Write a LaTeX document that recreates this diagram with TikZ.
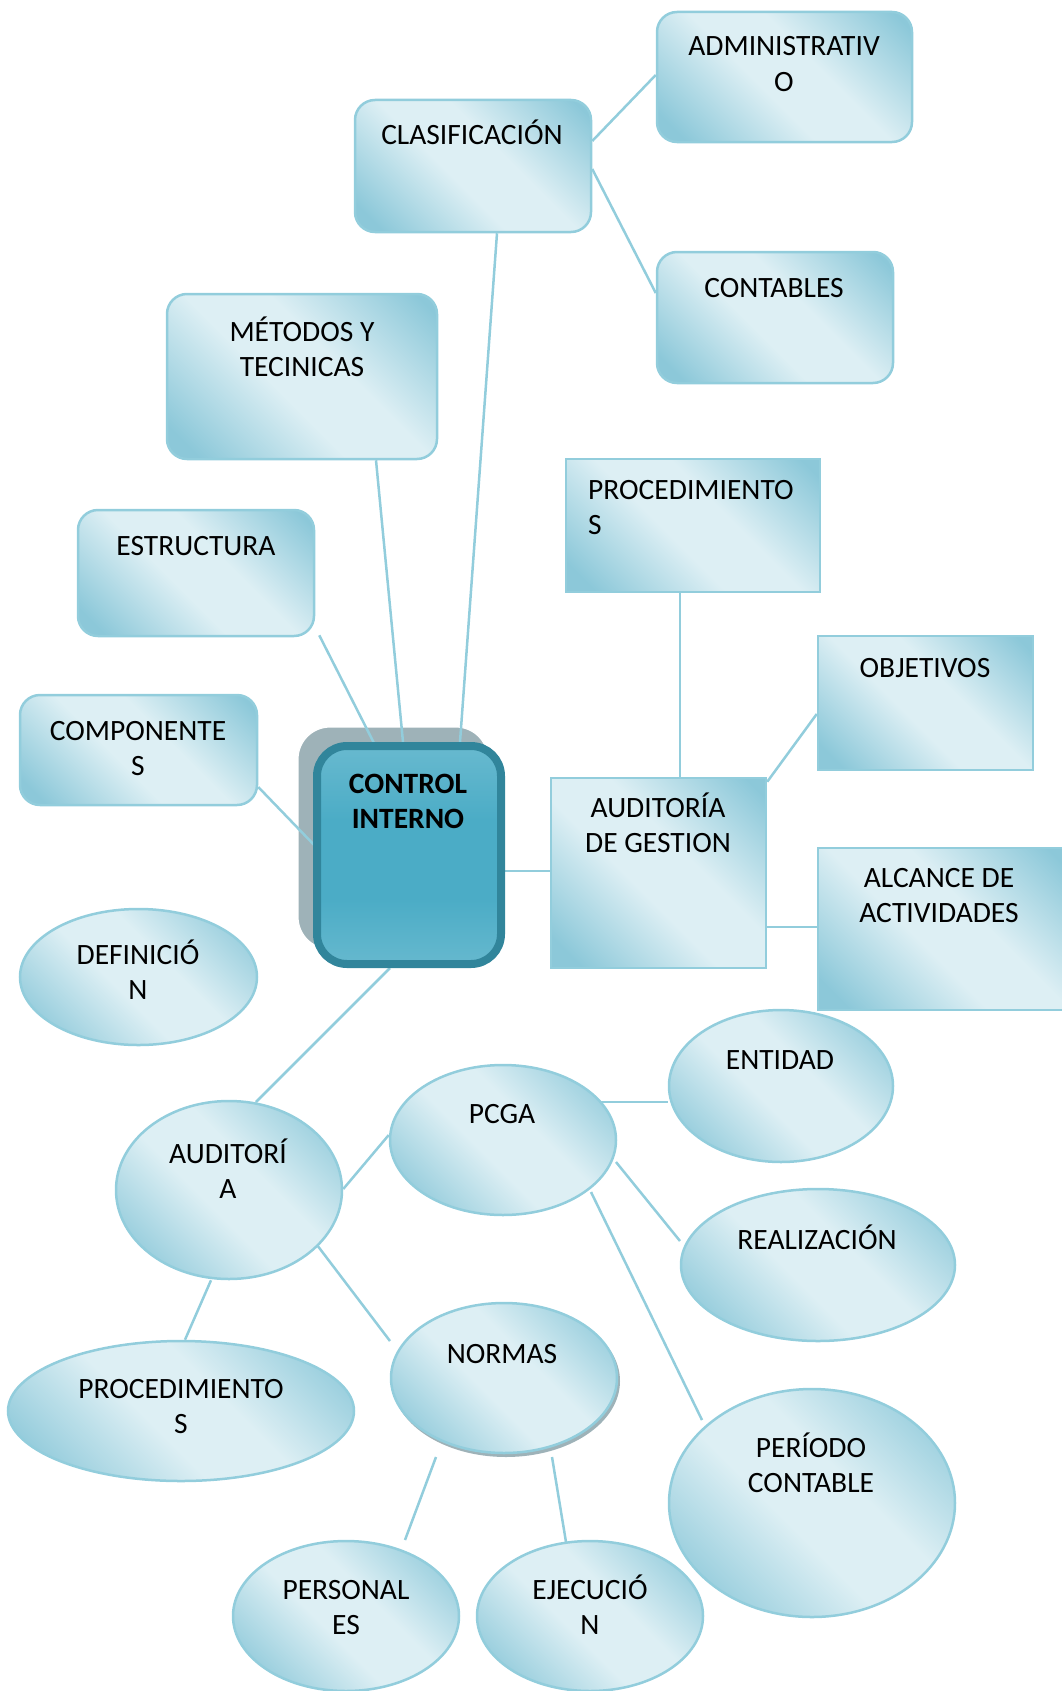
\documentclass[tikz,border=0pt]{standalone}
\usepackage{fontspec}
\setmainfont{Carlito}
\usetikzlibrary{shapes.geometric,calc,backgrounds}
\definecolor{cdk}{RGB}{140,200,217}
\definecolor{clt}{RGB}{221,239,244}
\definecolor{edge}{RGB}{146,205,220}
\definecolor{cimid}{RGB}{75,172,198}
\definecolor{citop}{RGB}{146,205,220}
\definecolor{ciedge}{RGB}{49,133,155}
\definecolor{shgray}{RGB}{158,178,184}
\pgfdeclarehorizontalshading{band}{100bp}{color(0bp)=(cdk); color(20bp)=(cdk); color(44bp)=(clt); color(58bp)=(clt); color(82bp)=(cdk); color(100bp)=(cdk)}
\pgfdeclareverticalshading{cishade}{100bp}{color(0bp)=(citop); color(40bp)=(cimid); color(58bp)=(cimid); color(100bp)=(citop)}
\newcommand\mylines[1]{\begin{tabular}[t]{@{}c@{}}#1\end{tabular}}
\newcommand\mylinesl[1]{\begin{tabular}[t]{@{}l@{}}#1\end{tabular}}
\tikzset{
  box/.style={draw=edge, line width=2.5pt, shading=band, shading angle=45, inner sep=0pt},
  rbox/.style={box, rectangle, rounded corners=20pt},
  sbox/.style={box, rectangle},
  ell/.style={box, ellipse},
  txt/.style={font=\fontsize{29.5}{35.5}\selectfont, anchor=base, inner sep=0pt},
  link/.style={draw=edge, line width=2.5pt},
  cibox/.style={rectangle, rounded corners=30pt, draw=ciedge, line width=8pt, shading=cishade, inner sep=0pt},
  cishadow/.style={rectangle, rounded corners=32pt, draw=white, line width=1.2pt, fill=shgray, inner sep=0pt},
  ellshadow/.style={ellipse, fill=shgray, inner sep=0pt}
}
\begin{document}
\begin{tikzpicture}[x=1pt,y=-1pt]
\useasboundingbox (0,0) rectangle (1061,1691);
% rounded / square boxes
\node[rbox, minimum width=255pt, minimum height=130pt] (adm) at (784.5,77) {};
\node[rbox, minimum width=236pt, minimum height=132pt] (clas) at (473,166) {};
\node[rbox, minimum width=236pt, minimum height=131pt] (cont) at (775,317.5) {};
\node[rbox, minimum width=270pt, minimum height=165pt] (met) at (302,376.5) {};
\node[rbox, minimum width=236pt, minimum height=126pt] (est) at (196,573) {};
\node[sbox, minimum width=254pt, minimum height=133pt] (proc1) at (693,525.5) {};
\node[sbox, minimum width=215pt, minimum height=134pt] (obj) at (925.5,703) {};
\node[rbox, minimum width=237pt, minimum height=110pt] (comp) at (138.5,750) {};
\begin{pgfonlayer}{background}
\node[cishadow, minimum width=190pt, minimum height=222pt] (cish) at (393,838) {};
\node[ellshadow, minimum width=228pt, minimum height=152pt] (normsh) at (506,1381) {};
\end{pgfonlayer}
\node[cibox, minimum width=184pt, minimum height=218pt] (ci) at (409,855) {};
\node[sbox, minimum width=215pt, minimum height=190pt] (adg) at (658.5,873) {};
\node[sbox, minimum width=250pt, minimum height=162pt] (alc) at (943,929) {};
% ellipses
\node[ell, minimum width=237pt, minimum height=136pt] (defi) at (138.5,977) {};
\node[ell, minimum width=224pt, minimum height=152pt] (ent) at (781,1086) {};
\node[ell, minimum width=226pt, minimum height=150pt] (pcga) at (503,1140) {};
\node[ell, minimum width=226pt, minimum height=178pt] (aud) at (229,1190) {};
\node[ell, minimum width=274pt, minimum height=152pt] (real) at (818,1265) {};
\node[ell, minimum width=226pt, minimum height=150pt] (norm) at (504,1378) {};
\node[ell, minimum width=346pt, minimum height=140pt] (procE) at (181,1411) {};
\node[ell, minimum width=286pt, minimum height=228pt] (per) at (812,1503) {};
\node[ell, minimum width=226pt, minimum height=150pt] (pers) at (346,1616) {};
\node[ell, minimum width=226pt, minimum height=150pt] (eje) at (590,1616) {};
% texts
\node[txt] (admt) at (784,56) {\mylines{ADMINISTRATIV\\O}};
\node[txt] (clast) at (472,145) {CLASIFICACIÓN};
\node[txt] (contt) at (774,297) {CONTABLES};
\node[txt] (mett) at (302,341) {\mylines{MÉTODOS Y\\TECINICAS}};
\node[txt] (estt) at (196,555) {ESTRUCTURA};
\node[txt, anchor=base west] (proc1t) at (588,499) {\mylinesl{PROCEDIMIENTO\\S}};
\node[txt] (objt) at (925,677) {OBJETIVOS};
\node[txt] (compt) at (138,740) {\mylines{COMPONENTE\\S}};
\node[txt, font=\fontsize{29.5}{35.5}\selectfont\bfseries] (cit) at (408,793) {\mylines{CONTROL\\INTERNO}};
\node[txt] (adgt) at (658,817) {\mylines{AUDITORÍA\\DE GESTION}};
\node[txt] (alct) at (939,887) {\mylines{ALCANCE DE\\ACTIVIDADES}};
\node[txt] (defit) at (138,964) {\mylines{DEFINICIÓ\\N}};
\node[txt] (entt) at (780,1069) {ENTIDAD};
\node[txt] (pcgat) at (502,1123) {PCGA};
\node[txt] (audt) at (228,1163) {\mylines{AUDITORÍ\\A}};
\node[txt] (realt) at (817,1249) {REALIZACIÓN};
\node[txt] (normt) at (502,1363) {NORMAS};
\node[txt] (procEt) at (181,1398) {\mylines{PROCEDIMIENTO\\S}};
\node[txt] (pert) at (811,1457) {\mylines{PERÍODO\\CONTABLE}};
\node[txt] (perst) at (346,1599) {\mylines{PERSONAL\\ES}};
\node[txt] (ejet) at (590,1599) {\mylines{EJECUCIÓ\\N}};
% connectors
\begin{pgfonlayer}{background}
\draw[link] ($(clas.east)+(0,-25)$) -- ($(adm.west)+(0,-2)$);
\draw[link] ($(clas.east)+(0,3)$) -- ($(cont.west)+(0,-24.5)$);
\draw[link] ($(clas.south)+(24,0)$) -- ($(ci.north)+(51,0)$);
\draw[link] ($(met.south)+(74,0)$) -- ($(ci.north)+(-6,0)$);
\draw[link] ($(est.south east)+(4,-2)$) -- ($(ci.north west)+(64,7)$);
\draw[link] ($(comp.east)+(0,37)$) -- ($(ci.west)+(5,-6)$);
\draw[link] ($(ci.east)+(0,16)$) -- ($(adg.west)+(0,-2)$);
\draw[link] ($(proc1.south)+(-13,0)$) -- ($(adg.north)+(21.5,0)$);
\draw[link] ($(adg.north east)+(0,5)$) -- ($(obj.west)+(0,11)$);
\draw[link] ($(adg.east)+(0,54)$) -- ($(alc.west)+(0,-2)$);
\draw[link] ($(ci.south)+(-19,0)$) -- ($(aud.center)+(27,-88)$);
\draw[link] ($(aud.east)+(0,-1)$) -- ($(pcga.west)+(0,-5)$);
\draw[link] ($(aud.center)+(85,51)$) -- ($(norm.center)+(-114,-37)$);
\draw[link] ($(aud.south)+(-18,0)$) -- ($(procE.north)+(4,0)$);
\draw[link] ($(pcga.center)+(95,-38)$) -- ($(ent.west)+(0,16)$);
\draw[link] ($(pcga.center)+(113,22)$) -- ($(real.center)+(-138,-24)$);
\draw[link] ($(pcga.center)+(88,52)$) -- ($(per.center)+(-110,-83)$);
\draw[link] ($(norm.center)+(-68,79)$) -- ($(pers.center)+(59,-76)$);
\draw[link] ($(norm.center)+(48,79)$) -- ($(eje.center)+(-24,-74)$);
\end{pgfonlayer}
\end{tikzpicture}
\end{document}
